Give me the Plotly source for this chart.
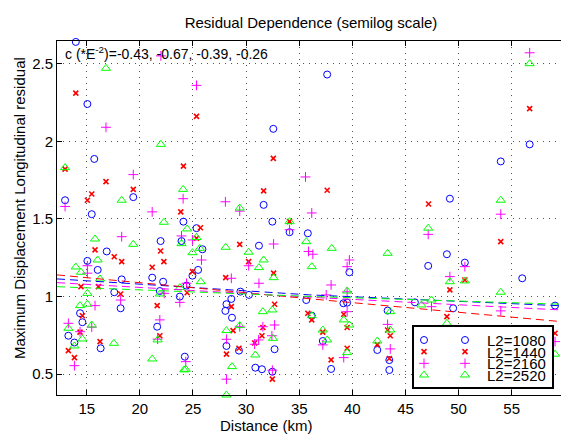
import plotly.graph_objects as go

# ---------------- data ----------------
labels = ["L2=1080", "L2=1440", "L2=2160", "L2=2520"]
colors = ["#0000FF", "#FF0000", "#FF00FF", "#00FF00"]

blue_x = [13.97, 15.06, 15.71, 19.38, 12.96, 15.47, 32.56, 31.65, 37.63, 56.69, 53.97, 49.18,
          21.95, 16.88, 15.06, 16.03, 21.16, 18.29, 22.19, 17.59, 21.88, 23.76, 18.19, 14.37,
          14.59, 21.63, 13.27, 13.84, 16.31, 24.23, 24.10, 25.33, 32.47, 34.09, 35.81, 23.92,
          31.21, 25.89, 25.48, 24.95, 24.39, 29.46, 30.27, 28.61, 28.15, 28.05, 28.67, 28.15,
          29.33, 32.68, 30.87, 31.49, 32.47, 47.14, 39.72, 35.66, 39.16, 39.51, 45.89, 43.32,
          36.18, 37.22, 42.35, 43.48, 38.00, 43.48, 48.90, 50.59, 55.99, 49.49, 59.08]
blue_y = [2.64, 2.24, 1.886, 1.64, 1.62, 1.53, 2.08, 1.59, 2.43, 1.98, 1.87, 1.63,
          1.357, 1.29, 1.229, 1.171, 1.121, 1.11, 1.095, 1.027, 1.035, 0.999, 0.924, 0.892,
          0.834, 0.805, 0.747, 0.703, 0.666, 0.612, 1.482, 1.44, 1.482, 1.414, 1.407, 1.357,
          1.327, 1.304, 1.171, 1.134, 1.07, 1.031, 1.01, 0.984, 0.95, 0.907, 0.863, 0.681,
          0.651, 0.66, 0.541, 0.531, 0.515, 1.197, 1.156, 0.977, 0.956, 0.96, 0.962, 0.909,
          0.876, 0.713, 0.655, 0.59, 0.533, 0.526, 1.272, 1.218, 1.117, 0.924, 0.941]

red_x = [13.97, 24.10, 12.96, 16.81, 19.38, 15.47, 15.06, 23.85, 25.33, 32.56, 31.65, 37.63,
         47.17, 56.69, 15.78, 21.95, 17.59, 18.29, 22.26, 21.16, 14.46, 16.10, 18.19, 12.19,
         21.63, 14.59, 14.37, 21.88, 16.25, 13.27, 13.84, 25.70, 34.09, 25.33, 29.40, 30.24,
         32.59, 24.95, 28.08, 24.45, 28.61, 32.68, 31.58, 28.77, 31.49, 30.80, 29.33, 28.15,
         32.47, 35.81, 36.18, 39.19, 39.51, 43.32, 37.22, 43.57, 42.35, 39.51, 38.00, 43.48,
         53.97, 50.59, 49.18, 48.90, 59.08]
red_y = [2.31, 1.84, 1.82, 1.74, 1.69, 1.66, 1.62, 1.545, 2.16, 1.89, 1.68, 1.684,
         1.596, 2.21, 1.30, 1.293, 1.256, 1.224, 1.224, 1.188, 1.063, 1.063, 1.016, 0.99,
         0.941, 0.876, 0.77, 0.747, 0.709, 0.651, 0.606, 1.443, 1.482, 1.375, 1.336, 1.224,
         1.15, 1.16, 1.121, 1.024, 0.934, 0.95, 0.80, 0.78, 0.747, 0.70, 0.666, 0.628,
         0.467, 0.892, 0.849, 0.885, 0.80, 0.784, 0.77, 0.747, 0.69, 0.666, 0.591, 0.60,
         1.353, 1.106, 1.042, 0.87, 0.763]

mag_x = [16.81, 21.98, 19.38, 12.96, 24.07, 21.16, 25.33, 35.59, 28.05, 29.40, 36.18, 56.69,
         53.97, 18.29, 15.06, 15.06, 22.29, 18.19, 12.19, 23.76, 15.78, 21.88, 13.27, 15.47,
         14.37, 21.67, 13.84, 34.09, 23.92, 24.95, 32.59, 25.80, 30.24, 28.61, 31.21, 24.39,
         32.68, 29.40, 31.58, 32.43, 28.15, 31.18, 30.80, 24.32, 32.47, 28.15, 47.14, 39.72,
         39.51, 35.87, 36.28, 38.00, 37.54, 39.51, 39.51, 43.32, 37.22, 43.57, 39.19, 47.45,
         49.18, 50.59, 53.97, 59.08]
mag_y = [2.09, 2.55, 1.785, 1.58, 1.63, 1.545, 2.36, 1.77, 1.61, 1.55, 1.538, 2.57,
         1.53, 1.385, 1.198, 1.15, 1.02, 0.977, 0.955, 0.962, 0.941, 0.849, 0.827, 0.802,
         0.773, 0.725, 0.554, 1.43, 1.39, 1.364, 1.338, 1.235, 1.198, 1.117, 1.085, 1.085,
         0.816, 0.805, 0.805, 0.747, 0.724, 0.72, 0.692, 0.58, 0.525, 0.467, 1.40, 1.235,
         1.192, 1.29, 1.272, 1.074, 1.01, 1.03, 0.902, 0.82, 0.688, 0.662, 0.606, 0.934,
         1.128, 1.192, 0.907, 0.709]

green_x = [16.81, 21.98, 12.96, 24.07, 18.29, 29.40, 56.69, 53.97, 22.26, 15.78, 19.38, 16.03,
           13.97, 14.46, 16.25, 23.76, 15.06, 21.88, 12.19, 14.37, 15.06, 15.47, 13.27, 14.59,
           21.67, 17.56, 13.84, 21.16, 24.17, 24.45, 34.09, 23.92, 25.33, 28.08, 25.64, 24.95,
           30.24, 31.65, 31.21, 32.59, 25.73, 31.58, 32.47, 29.40, 28.15, 32.53, 30.87, 28.67,
           24.32, 28.15, 35.66, 38.06, 43.32, 47.14, 36.18, 39.51, 46.51, 43.57, 36.18, 39.19,
           39.72, 43.57, 37.22, 37.63, 42.35, 39.51, 47.45, 49.18, 50.59, 53.97, 48.90, 59.08]
green_y = [2.47, 1.98, 1.83, 1.69, 1.62, 1.57, 2.50, 1.62, 1.478, 1.37, 1.336, 1.235,
           1.19, 1.156, 1.113, 1.057, 1.02, 1.016, 0.984, 0.941, 0.95, 0.816, 0.795, 0.726,
           0.72, 0.698, 0.681, 0.597, 0.527, 1.435, 1.482, 1.34, 1.38, 1.317, 1.31, 1.282,
           1.285, 1.235, 1.186, 1.121, 1.095, 0.902, 0.913, 0.812, 0.78, 0.73, 0.623, 0.548,
           0.531, 0.365, 1.353, 1.31, 1.278, 1.44, 1.192, 1.035, 0.945, 0.902, 0.876, 0.849,
           0.816, 0.784, 0.784, 0.72, 0.713, 0.638, 0.977, 1.095, 1.10, 1.027, 0.827, 0.628]

# dashed fit curves, read at three distances
fit_x = [12.2, 36.0, 59.64]
fit_blue = [1.113, 1.01, 0.94]
fit_red = [1.139, 0.985, 0.838]
fit_mag = [1.089, 0.995, 0.913]
fit_green = [1.063, 1.0, 0.95]

xtick_vals = [15, 20, 25, 30, 35, 40, 45, 50, 55]
ytick_vals = [0.5, 1, 1.5, 2, 2.5]
ytick_text = ["0.5", "1", "1.5", "2", "2.5"]

title_text = "Residual Dependence (semilog scale)"
xlabel = "Distance (km)"
ylabel = "Maximum Displacement Longitudinal residual"
coef_text = "c (*E<sup>-2</sup>)=-0.43, -0.67, -0.39, -0.26"

# ---------------- figure ----------------
FONT = "Liberation Sans, Arial, Helvetica, sans-serif"
W, H = 561, 437
ML, MR, MT, MB = 57, 0, 41, 42
PW, PH = W - ML - MR, H - MT - MB

marker_styles = [
    dict(symbol="circle-open", size=7, line=dict(width=1, color=colors[0]), color=colors[0]),
    dict(symbol="x-thin", size=5, line=dict(width=1.6, color=colors[1]), color=colors[1]),
    dict(symbol="cross-thin", size=7, line=dict(width=1, color=colors[2]), color=colors[2]),
    dict(symbol="triangle-up-open", size=8, line=dict(width=1, color=colors[3]), color=colors[3]),
]

series = [(blue_x, blue_y), (red_x, red_y), (mag_x, mag_y), (green_x, green_y)]
fits = [fit_blue, fit_red, fit_mag, fit_green]

fig = go.Figure()
for (sx, sy), ms, name in zip(series, marker_styles, labels):
    fig.add_trace(go.Scatter(x=sx, y=sy, mode="markers", marker=ms, name=name,
                             showlegend=False, cliponaxis=False, xaxis="x", yaxis="y"))
for fy, c in zip(fits, colors):
    fig.add_trace(go.Scatter(x=fit_x, y=fy, mode="lines", showlegend=False,
                             line=dict(color=c, width=1, dash="8px,5px"), xaxis="x", yaxis="y"))

# custom MATLAB-like legend box (inset subplot)
box_px = dict(x0=414, x1=552, y0=327, y1=387)
bw = box_px["x1"] - box_px["x0"]
bh = box_px["y1"] - box_px["y0"]
row_gap = 11.67
for i, (ms, name) in enumerate(zip(marker_styles, labels)):
    ry = bh - 13 - row_gap * i
    fig.add_trace(go.Scatter(x=[10, 51], y=[ry, ry], mode="markers", marker=ms,
                             showlegend=False, xaxis="x2", yaxis="y2", hoverinfo="skip"))
    fig.add_annotation(x=bw - 3.7, y=ry, xref="x2", yref="y2", text=name, showarrow=False,
                       xanchor="right", yanchor="middle", height=12, valign="middle",
                       font=dict(size=15, color="black", family=FONT))

grid = dict(showgrid=True, gridcolor="#555555", griddash="1px,5px", gridwidth=1, zeroline=False)
fig.update_layout(
    width=W, height=H, margin=dict(l=ML, r=MR, t=MT, b=MB, pad=0),
    paper_bgcolor="white", plot_bgcolor="white",
    font=dict(family=FONT, size=15, color="black"),
    title=dict(text=title_text, x=311 / W, xref="container", xanchor="center",
               y=1 - 23 / H, yref="container", yanchor="middle", font=dict(size=15)),
    xaxis=dict(range=[12.2, 59.64], tickvals=xtick_vals, ticks="inside", ticklen=5,
               tickcolor="black", showline=True, mirror="ticks", linecolor="black", linewidth=1,
               tickfont=dict(size=15), domain=[0, 1], anchor="y", **grid),
    yaxis=dict(range=[0.365, 2.646], tickvals=ytick_vals, ticktext=ytick_text, ticks="inside",
               ticklen=5, tickcolor="black", showline=True, mirror=False, linecolor="black",
               linewidth=1, tickfont=dict(size=15), domain=[0, 1], anchor="x", **grid),
    xaxis2=dict(domain=[(box_px["x0"] - ML) / PW, (box_px["x1"] - ML) / PW], anchor="y2",
                range=[0, bw], showline=True, mirror=True, linecolor="black", linewidth=2,
                showticklabels=False, ticks="", showgrid=False, zeroline=False, fixedrange=True),
    yaxis2=dict(domain=[(H - MB - box_px["y1"]) / PH, (H - MB - box_px["y0"]) / PH], anchor="x2",
                range=[0, bh], showline=True, mirror=True, linecolor="black", linewidth=2,
                showticklabels=False, ticks="", showgrid=False, zeroline=False, fixedrange=True),
    showlegend=False,
)

fig.add_annotation(x=(63 - ML) / PW, y=(H - MB - 53) / PH, xref="paper", yref="paper",
                   text=coef_text, showarrow=False, xanchor="left", yanchor="middle",
                   font=dict(size=14, color="black", family=FONT))
fig.add_annotation(x=(266 - ML) / PW, y=(H - MB - 425) / PH, xref="paper", yref="paper",
                   text=xlabel, showarrow=False, xanchor="center", yanchor="middle",
                   font=dict(size=15, color="black", family=FONT))
fig.add_annotation(x=(19 - ML) / PW, y=(H - MB - 208) / PH, xref="paper", yref="paper",
                   text=ylabel, showarrow=False, textangle=-90, xanchor="center", yanchor="middle",
                   font=dict(size=15, color="black", family=FONT))

fig.write_html("out.html")
